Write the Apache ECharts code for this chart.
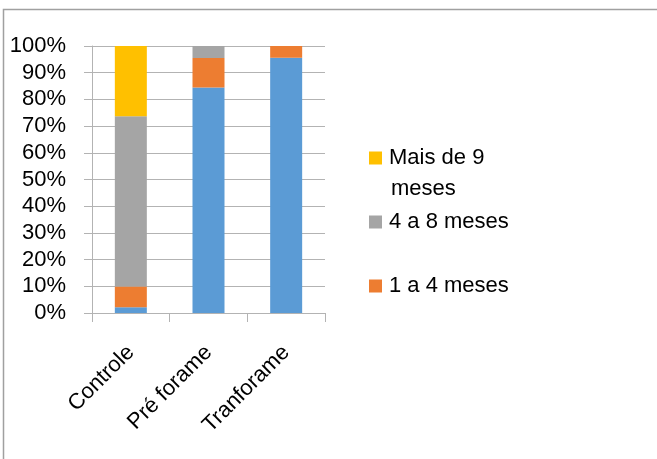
<!DOCTYPE html>
<html>
<head>
<meta charset="utf-8">
<script src="https://cdn.jsdelivr.net/npm/echarts@6/dist/echarts.min.js"></script>
<style>
  html, body { margin: 0; padding: 0; background: #fff; }
  #chart { width: 657px; height: 459px; }
</style>
</head>
<body>
<div id="chart"></div>
<script>
// Categories and stacked shares (percent of each group)
const categories = ['Controle', 'Pré forame', 'Tranforame'];
const seriesNames = ['Até 1 mês', '1 a 4 meses', '4 a 8 meses', 'Mais de 9 meses'];
const ate1Mes   = [2.2, 84.5, 95.6];
const de1a4     = [7.7, 11.0, 4.4];
const de4a8     = [63.8, 4.5, 0];
const mais9     = [26.3, 0, 0];
const yTicks = { min: 0, max: 100, step: 10 };

const colors = ['#5B9BD5', '#ED7D31', '#A5A5A5', '#FFC000'];
const FONT = 'Liberation Sans';
const gridLine = '#B3B3B3';

const values = [ate1Mes, de1a4, de4a8, mais9];

const chart = echarts.init(document.getElementById('chart'), null, { renderer: 'canvas' });

function legendAt(name, top, label) {
  return {
    data: [name],
    left: 369,
    top: top,
    orient: 'vertical',
    itemWidth: 13,
    itemHeight: 13,
    itemGap: 0,
    icon: 'rect',
    padding: 0,
    selectedMode: false,
    formatter: () => label,
    textStyle: { fontFamily: FONT, fontSize: 22, color: '#000', padding: [0, 0, 0, 2] }
  };
}

chart.setOption({
  animation: false,
  backgroundColor: '#fff',
  color: colors,
  grid: { left: 92, right: 332, top: 46, bottom: 146 },
  legend: [
    legendAt('Mais de 9 meses', 147, 'Mais de 9'),
    legendAt('4 a 8 meses', 211, '4 a 8 meses'),
    legendAt('1 a 4 meses', 275, '1 a 4 meses')
  ],
  graphic: [
    {
      type: 'rect',
      shape: { x: 3.5, y: 9.5, width: 700, height: 500 },
      style: { fill: 'none', stroke: '#A0A0A0', lineWidth: 1.5 },
      z: 100, silent: true
    },
    {
      type: 'text',
      left: 391, top: 178,
      style: { text: 'meses', fontFamily: FONT, fontSize: 22, fill: '#000' }
    }
  ],
  xAxis: {
    type: 'category',
    data: categories,
    axisLine: { lineStyle: { color: gridLine, width: 1 } },
    axisTick: { show: true, length: 9, interval: 0, lineStyle: { color: gridLine } },
    axisLabel: {
      rotate: 45, margin: 36, interval: 0,
      fontFamily: FONT, fontSize: 22, color: '#000'
    },
    splitLine: { show: false }
  },
  yAxis: {
    type: 'value',
    min: yTicks.min, max: yTicks.max, interval: yTicks.step,
    axisLine: { show: true, lineStyle: { color: gridLine, width: 1 } },
    axisTick: { show: true, length: 8, lineStyle: { color: gridLine } },
    axisLabel: {
      formatter: '{value}%', margin: 26,
      fontFamily: FONT, fontSize: 22, color: '#000'
    },
    splitLine: { show: true, lineStyle: { color: gridLine, width: 1 } }
  },
  series: seriesNames.map((name, i) => ({
    name: name,
    type: 'bar',
    stack: 'total',
    barWidth: 32,
    data: values[i],
    itemStyle: { color: colors[i] }
  }))
});
</script>
</body>
</html>
